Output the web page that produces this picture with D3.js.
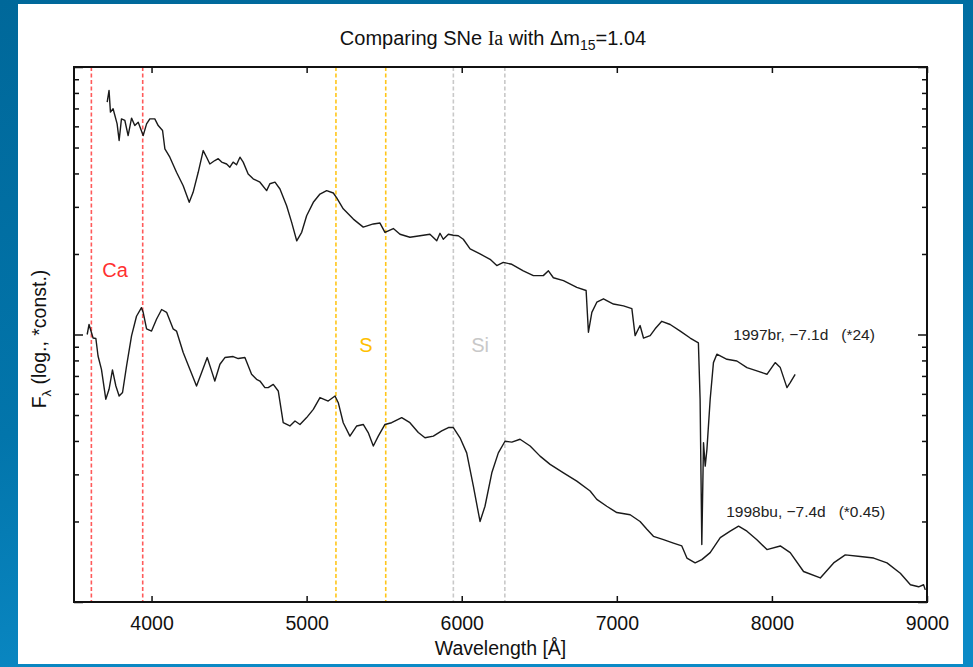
<!DOCTYPE html>
<html>
<head>
<meta charset="utf-8">
<title>Comparing SNe Ia</title>
<script src="https://cdn.jsdelivr.net/npm/d3@7/dist/d3.min.js"></script>
<style>
	body{margin:0;padding:0;overflow:hidden;}
	#plot{width:973px;height:667px;}
	text{font-family:"Liberation Sans",Arial,Helvetica,sans-serif;}
</style>
</head>
<body>
<div id="plot"></div>
<script>
// 1997br, -7.1d (scaled *24)
var wave97 = [3714,3726,3735,3752,3778,3791,3806,3828,3849,3871,3892,3914,3946,3968,3989,4021,4043,4071,4086,4118,
	4161,4204,4243,4268,4301,4333,4355,4376,4408,4430,4452,4484,4505,4526,4548,4570,4591,4623,4655,4699,4742,4763,4796,
	4828,4871,4903,4936,4968,5000,5043,5086,5129,5172,5194,5236,5301,5365,5430,5473,5505,5559,5602,5666,
	5731,5795,5839,5860,5881,5914,5946,5978,6010,6054,6118,6183,6226,6268,6323,6397,6462,6526,6559,6591,6656,6742,6802,
	6817,6839,6871,6914,6978,7043,7097,7118,7150,7172,7215,7247,7290,7344,7409,7473,7526,7537,7548,7559,
	7570,7581,7602,7623,7645,7710,7774,7839,7903,7968,8021,8054,8097,8118,8150];
var flux97 = [7.39,8.17,6.78,6.98,6.13,5.31,6.40,6.31,5.54,6.44,6.04,6.22,5.54,6.13,6.40,6.40,6.04,5.79,4.94,4.60,
	4.04,3.60,3.12,3.40,4.04,4.87,4.60,4.34,4.47,4.54,4.41,4.34,4.22,4.41,4.31,4.60,4.41,3.98,3.82,3.71,3.45,3.66,3.71,
	3.50,3.03,2.63,2.24,2.41,2.78,3.12,3.35,3.45,3.38,3.24,2.95,2.70,2.52,2.59,2.61,2.41,2.49,2.37,2.31,
	2.34,2.37,2.24,2.39,2.27,2.37,2.35,2.34,2.27,2.09,2.00,1.91,1.81,1.86,1.83,1.73,1.66,1.66,1.73,1.63,1.59,1.50,1.46,
	1.02,1.21,1.32,1.36,1.30,1.28,1.25,0.99,1.08,0.97,0.99,1.05,1.12,1.09,1.03,0.97,0.93,0.573,0.164,0.394,
	0.322,0.372,0.573,0.785,0.844,0.808,0.796,0.752,0.731,0.710,0.785,0.752,0.633,0.661,0.710];

// 1998bu, -7.4d (scaled *0.45)
var wave98 = [3585,3597,3623,3641,3655,3677,3705,3726,3748,3770,3791,3813,3839,3871,3903,3935,3946,3968,4000,4032,
	4065,4097,4139,4161,4204,4247,4290,4323,4359,4387,4408,4441,4473,4526,4559,4602,4645,4677,4699,4731,
	4752,4785,4817,4849,4892,4925,4957,5000,5043,5086,5139,5183,5204,5236,5279,5323,5365,5397,5430,5462,
	5505,5548,5613,5666,5720,5763,5817,5871,5914,5946,5989,6032,6075,6118,6150,6194,6236,6279,6323,6376,
	6441,6505,6570,6656,6742,6828,6871,6935,7000,7086,7150,7194,7236,7301,7365,7419,7452,7505,7548,7602,
	7667,7731,7785,7839,7903,7968,8054,8118,8204,8312,8398,8473,8570,8656,8742,8828,8893,8946,8978,8989];
var flux98 = [1.00,1.09,0.970,0.966,0.831,0.741,0.573,0.624,0.737,0.642,0.589,0.607,0.763,0.988,1.17,1.26,1.21,1.05,1.03,1.14,
	1.24,1.21,1.05,1.03,0.856,0.741,0.642,0.721,0.820,0.731,0.670,0.774,0.820,0.827,0.813,0.820,0.710,0.680,0.670,0.633,
	0.633,0.651,0.615,0.468,0.455,0.475,0.461,0.489,0.525,0.581,0.564,0.589,0.556,0.468,0.417,0.455,0.461,0.430,0.383,0.417,
	0.461,0.468,0.489,0.468,0.430,0.411,0.417,0.436,0.449,0.449,0.411,0.361,0.271,0.200,0.228,0.304,0.361,0.399,0.396,0.406,
	0.383,0.351,0.327,0.304,0.283,0.260,0.242,0.228,0.216,0.212,0.200,0.187,0.176,0.171,0.166,0.162,0.146,0.140,0.144,0.153,
	0.174,0.184,0.192,0.184,0.171,0.157,0.162,0.153,0.130,0.123,0.140,0.150,0.148,0.146,0.140,0.128,0.116,0.114,0.116,0.111];

// line identifications (Angstrom)
var caLines = [3612,3943],
	sLines = [5189,5510],
	siLines = [5946,6278];

var xTicks = [4000,5000,6000,7000,8000,9000];
var xDomain = [3500,9000],
	yDomain = [0.1,10];

var W = 973, H = 667;
var m = {t:67,r:46,b:65,l:74},
	width = W - m.l - m.r,
	height = H - m.t - m.b;

var svg = d3.select('#plot')
	.append('svg')
	.attr('width',W)
	.attr('height',H);

//slide background
var grad = svg.append('defs').append('linearGradient')
	.attr('id','bg')
	.attr('x1',0).attr('y1',0).attr('x2',0.3).attr('y2',1);
grad.append('stop').attr('offset','0%').attr('stop-color','#00689a');
grad.append('stop').attr('offset','60%').attr('stop-color','#0275ab');
grad.append('stop').attr('offset','100%').attr('stop-color','#0b8ac6');

svg.append('rect').attr('width',W).attr('height',H).style('fill','url(#bg)');
svg.append('rect')
	.attr('x',18).attr('y',4)
	.attr('width',945).attr('height',660)
	.style('fill','white');

var plot = svg.append('g')
	.attr('transform','translate('+m.l+','+m.t+')');

var x = d3.scaleLinear().domain(xDomain).range([0,width]),
	y = d3.scaleLog().domain(yDomain).range([height,0]);

//vertical marker lines
function markers(waves,color){
	plot.selectAll(null)
		.data(waves)
		.enter()
		.append('line')
		.attr('x1',function(d){return x(d);})
		.attr('x2',function(d){return x(d);})
		.attr('y1',0)
		.attr('y2',height)
		.style('stroke',color)
		.style('stroke-width',1.6)
		.style('stroke-dasharray','4,2.5');
}
markers(caLines,'#ff5a5a');
markers(sLines,'#ffc61a');
markers(siLines,'#c9c9c9');

//spectra
var line = d3.line()
	.x(function(d){return x(d[0]);})
	.y(function(d){return y(d[1]);});

plot.append('path')
	.datum(d3.zip(wave97,flux97))
	.attr('d',line)
	.style('fill','none')
	.style('stroke','#1a1a1a')
	.style('stroke-width',1.4)
	.style('stroke-linejoin','round');

plot.append('path')
	.datum(d3.zip(wave98,flux98))
	.attr('d',line)
	.style('fill','none')
	.style('stroke','#1a1a1a')
	.style('stroke-width',1.4)
	.style('stroke-linejoin','round');

//axes, ticks pointing inward
var yTicks = y.ticks();
function isMajor(d){ return Math.abs(Math.log10(d) - Math.round(Math.log10(d))) < 1e-6; }

plot.append('g')
	.attr('transform','translate(0,'+height+')')
	.call(d3.axisBottom(x).tickValues(xTicks).tickSize(-6).tickPadding(14).tickFormat(d3.format('d')))
	.call(function(g){
		g.select('.domain').remove();
		g.selectAll('text').style('font-size','19.5px').style('fill','#111');
	});

plot.append('g')
	.call(d3.axisTop(x).tickValues(xTicks).tickSize(-6).tickFormat(''))
	.call(function(g){ g.select('.domain').remove(); });

plot.append('g')
	.call(d3.axisLeft(y).tickValues(yTicks).tickSize(-5).tickFormat(''))
	.call(function(g){
		g.select('.domain').remove();
		g.selectAll('.tick line').attr('x2',function(d){return isMajor(d)?9:5;});
	});

plot.append('g')
	.attr('transform','translate('+width+',0)')
	.call(d3.axisRight(y).tickValues(yTicks).tickSize(-5).tickFormat(''))
	.call(function(g){
		g.select('.domain').remove();
		g.selectAll('.tick line').attr('x2',function(d){return isMajor(d)?-9:-5;});
	});

plot.selectAll('.tick line').style('stroke','#111').style('stroke-width',1.5);

//frame
plot.append('rect')
	.attr('width',width)
	.attr('height',height)
	.style('fill','none')
	.style('stroke','#111')
	.style('stroke-width',2);

//element labels
var elements = [
	{t:'Ca',w:3765,f:1.64,c:'#ff3030'},
	{t:'S',w:5382,f:0.86,c:'#ffc000'},
	{t:'Si',w:6118,f:0.86,c:'#c8c8c8'}
];
plot.selectAll(null)
	.data(elements)
	.enter()
	.append('text')
	.attr('x',function(d){return x(d.w);})
	.attr('y',function(d){return y(d.f);})
	.attr('text-anchor','middle')
	.style('font-size','20px')
	.style('fill',function(d){return d.c;})
	.text(function(d){return d.t;});

//spectrum labels
var names = [
	{t:'1997br, \u22127.1d   (*24)',w:7750,f:0.95},
	{t:'1998bu, \u22127.4d   (*0.45)',w:7705,f:0.208}
];
plot.selectAll(null)
	.data(names)
	.enter()
	.append('text')
	.attr('x',function(d){return x(d.w);})
	.attr('y',function(d){return y(d.f);})
	.attr('xml:space','preserve')
	.style('white-space','pre')
	.style('font-size','15.5px')
	.style('fill','#222')
	.text(function(d){return d.t;});

//title
var title = svg.append('text')
	.attr('x',493)
	.attr('y',45)
	.attr('text-anchor','middle')
	.style('font-size','20px')
	.style('fill','#111');
title.append('tspan').text('Comparing SNe ');
title.append('tspan').style('font-family','"Liberation Serif",serif').text('Ia');
title.append('tspan').text(' with \u0394m');
title.append('tspan').attr('dy',5).style('font-size','14px').text('15');
title.append('tspan').attr('dy',-5).text('=1.04');

//axis labels
svg.append('text')
	.attr('x',m.l + width/2)
	.attr('y',655)
	.attr('text-anchor','middle')
	.style('font-size','19.5px')
	.style('fill','#111')
	.text('Wavelength [\u00c5]');

var ylab = svg.append('text')
	.attr('transform','translate(46,339) rotate(-90)')
	.attr('text-anchor','middle')
	.style('font-size','19.5px')
	.style('fill','#111');
ylab.append('tspan').text('F');
ylab.append('tspan').attr('dy',5).style('font-size','13px').text('\u03bb');
ylab.append('tspan').attr('dy',-5).text(' (log., *const.)');
</script>
</body>
</html>
